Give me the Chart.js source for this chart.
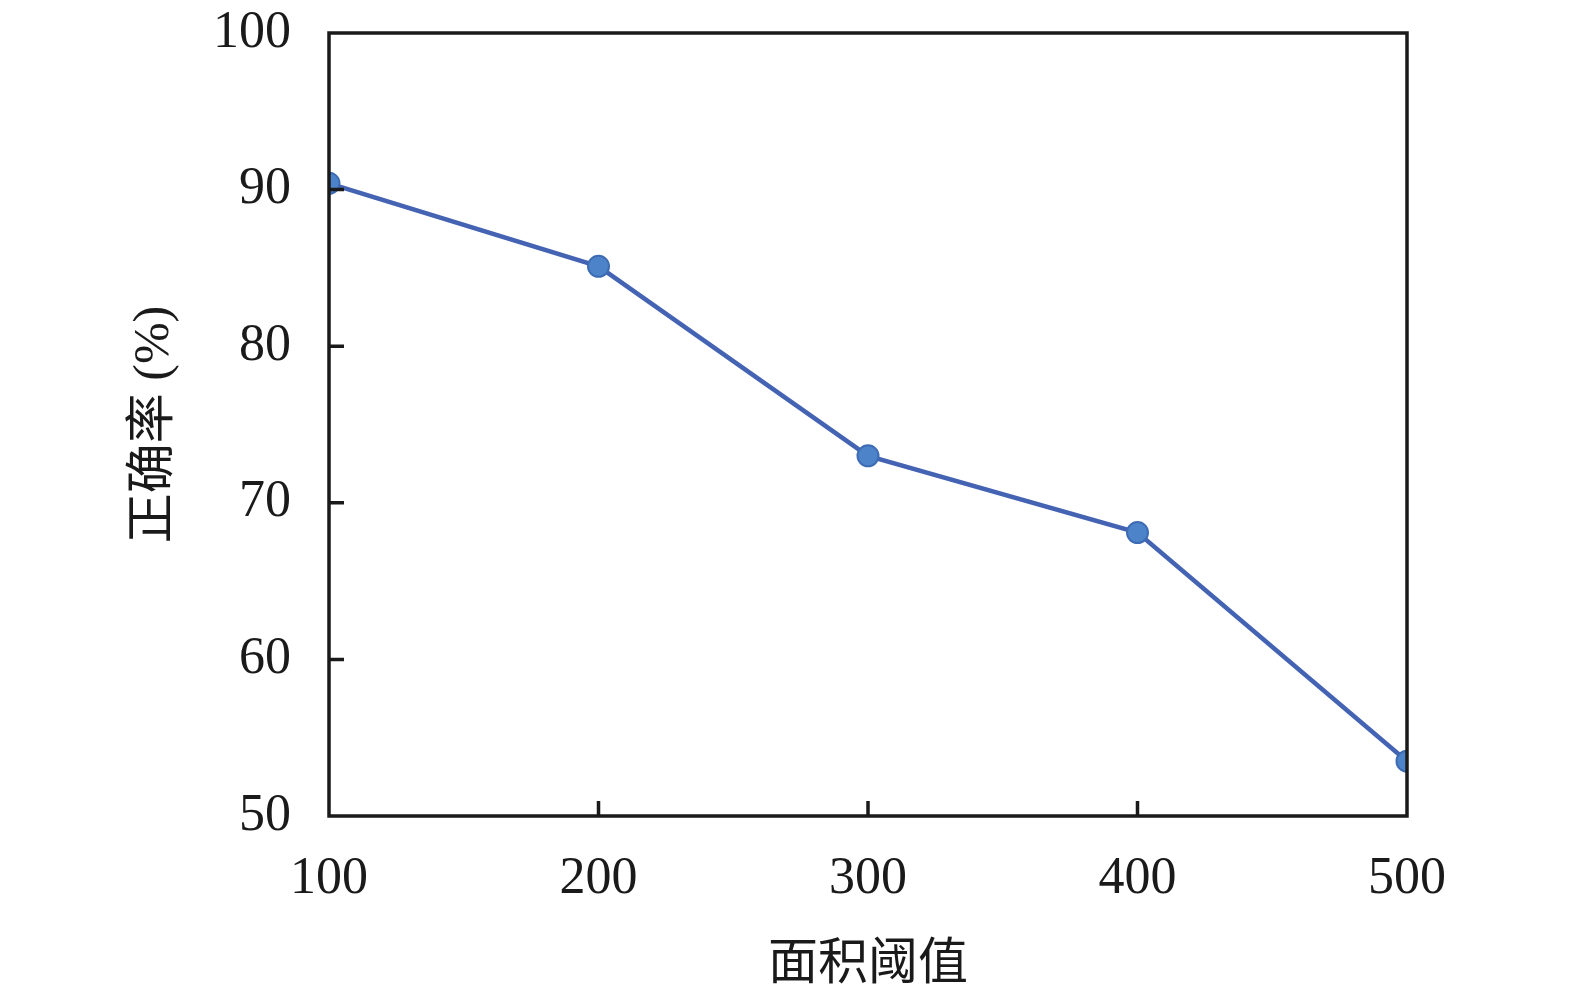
<!DOCTYPE html>
<html>
<head>
<meta charset="utf-8">
<script src="https://cdn.jsdelivr.net/npm/chart.js@4"></script>
<style>
    html, body { margin: 0; padding: 0; background: #ffffff; overflow: hidden; }
    canvas { display: block; }
</style>
</head>
<body>
<canvas id="accuracyChart" width="1575" height="1000"></canvas>
<script>
    // 面积阈值 vs 正确率
    const thresholds = [100, 200, 300, 400, 500];
    const accuracy = [90.4, 85.1, 73.0, 68.1, 53.5];
    const yTicks = [50, 60, 70, 80, 90, 100];
    const xTicks = [100, 200, 300, 400, 500];

    const FONT = "'Liberation Serif', 'Noto Sans CJK SC', serif";
    const INK = "#1a1a1a";

    // frame + inward tick marks, like the original plot
    const frameTicks = {
        id: "frameTicks",
        afterDatasetsDraw(chart) {
            const ctx = chart.ctx;
            const a = chart.chartArea;
            const xs = chart.scales.x;
            const ys = chart.scales.y;
            ctx.save();
            ctx.strokeStyle = INK;
            ctx.lineWidth = 3.5;
            ctx.beginPath();
            yTicks.forEach(function (v) {
                if (v === yTicks[0] || v === yTicks[yTicks.length - 1]) return;
                const py = ys.getPixelForValue(v);
                ctx.moveTo(a.left, py);
                ctx.lineTo(a.left + 15, py);
            });
            xTicks.forEach(function (v) {
                if (v === xTicks[0] || v === xTicks[xTicks.length - 1]) return;
                const px = xs.getPixelForValue(v);
                ctx.moveTo(px, a.bottom);
                ctx.lineTo(px, a.bottom - 15);
            });
            ctx.stroke();
            ctx.strokeRect(a.left, a.top, a.right - a.left, a.bottom - a.top);
            ctx.restore();
        },
    };

    const ctx = document.getElementById("accuracyChart").getContext("2d");
    new Chart(ctx, {
        type: "line",
        data: {
            datasets: [
                {
                    label: "正确率",
                    data: thresholds.map(function (t, i) {
                        return { x: t, y: accuracy[i] };
                    }),
                    borderColor: "#4463b3",
                    borderWidth: 4.5,
                    backgroundColor: "#4d83c8",
                    pointBackgroundColor: "#4d83c8",
                    pointBorderColor: "#3d6cb4",
                    pointBorderWidth: 2,
                    pointRadius: 10.5,
                    tension: 0,
                    fill: false,
                },
            ],
        },
        options: {
            responsive: false,
            animation: false,
            devicePixelRatio: 1,
            layout: {
                padding: { top: 33, right: 168, bottom: 0, left: 0 },
            },
            plugins: {
                legend: { display: false },
                tooltip: { enabled: false },
            },
            scales: {
                x: {
                    type: "linear",
                    min: 100,
                    max: 500,
                    afterBuildTicks: function (scale) {
                        scale.ticks = xTicks.map(function (v) { return { value: v }; });
                    },
                    afterFit: function (scale) {
                        scale.height = 184;
                        scale.paddingLeft = 0;
                        scale.paddingRight = 0;
                    },
                    grid: { display: false, drawTicks: false },
                    border: { display: false },
                    ticks: {
                        color: INK,
                        padding: 32,
                        maxRotation: 0,
                        font: { family: FONT, size: 52 },
                    },
                    title: {
                        display: true,
                        text: "面积阈值",
                        color: INK,
                        padding: { top: 10 },
                        font: { family: FONT, size: 50 },
                    },
                },
                y: {
                    min: 50,
                    max: 100,
                    afterBuildTicks: function (scale) {
                        scale.ticks = yTicks.map(function (v) { return { value: v }; });
                    },
                    afterFit: function (scale) {
                        scale.width = 329;
                        scale.paddingTop = 0;
                        scale.paddingBottom = 0;
                    },
                    grid: { display: false, drawTicks: false },
                    border: { display: false },
                    ticks: {
                        color: INK,
                        padding: 38,
                        font: { family: FONT, size: 52 },
                    },
                    title: {
                        display: true,
                        text: "正确率 (%)",
                        color: INK,
                        padding: { top: 125, bottom: 0 },
                        font: { family: FONT, size: 50 },
                    },
                },
            },
        },
        plugins: [frameTicks],
    });
</script>
</body>
</html>
